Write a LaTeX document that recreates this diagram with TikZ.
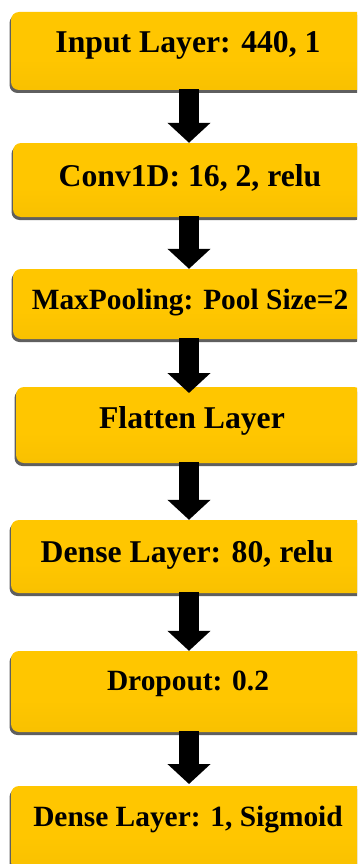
\documentclass[tikz,border=0pt]{standalone}
\usepackage{fontspec}
\setmainfont{Liberation Serif}
\usetikzlibrary{arrows.meta,shadows}

\definecolor{goldA}{RGB}{255,204,72}
\definecolor{goldB}{RGB}{255,198,0}
\definecolor{goldC}{RGB}{245,190,0}
\definecolor{goldD}{RGB}{230,180,0}
\definecolor{shadowgray}{RGB}{95,95,95}

% vertical gold gradient used to fill the layer boxes
\pgfdeclareverticalshading{goldfill}{100bp}{%
  color(0bp)=(goldD); color(15bp)=(goldC); color(45bp)=(goldB);
  color(85bp)=(goldB); color(100bp)=(goldA)}

\tikzset{
  layer/.style={rounded corners=8pt, shading=goldfill, draw=none,
    minimum width=356pt, inner sep=0pt,
    drop shadow={shadow xshift=-1.5pt, shadow yshift=-3pt,
                 fill=shadowgray, opacity=1}},
  biglbl/.style={anchor=base, inner sep=0pt, font=\bfseries\fontsize{31.7}{36}\selectfont},
  smalllbl/.style={anchor=base, inner sep=0pt, font=\bfseries\fontsize{29.4}{34}\selectfont},
  flow/.style={line width=20pt, draw=black,
    -{Triangle[width=42pt,length=20pt]}, shorten <=-1pt}
}

\begin{document}
\begin{tikzpicture}[x=1pt,y=1pt]
  \clip (0,0) rectangle (357,-864);
  \fill[white] (0,0) rectangle (357,-864);

  % free arrow ends where the tip stops short of the next box
  \coordinate (a3e) at (189,-393);
  \coordinate (a6e) at (189,-784);

  % layer boxes
  \node[layer, minimum height=78pt] (b1) at (189,-51) {};
  \node[layer, minimum height=74pt, minimum width=352pt] (b2) at (189,-180) {};
  \node[layer, minimum height=70pt, minimum width=352pt] (b3) at (189,-304) {};
  \node[layer, minimum height=76pt, minimum width=346pt] (b4) at (189,-425) {};
  \node[layer, minimum height=73pt] (b5) at (189,-556.5) {};
  \node[layer, minimum height=81pt] (b6) at (189,-691.5) {};
  \node[layer, minimum height=84pt] (b7) at (189,-828) {};

  % arrows between consecutive layers
  \draw[flow] (b1.south) -- (b2.north);
  \draw[flow] (b2.south) -- (b3.north);
  \draw[flow] (b3.south) -- (a3e);
  \draw[flow] (b4.south) -- (b5.north);
  \draw[flow] (b5.south) -- (b6.north);
  \draw[flow] (b6.south) -- (a6e);

  % layer labels
  \node[biglbl]   (t1) at (188,-53)  {Input Layer: 440, 1};
  \node[biglbl]   (t2) at (190,-186) {Conv1D: 16, 2, relu};
  \node[smalllbl] (t3) at (190,-309) {MaxPooling: Pool Size=2};
  \node[biglbl]   (t4) at (192,-428) {Flatten Layer};
  \node[biglbl]   (t5) at (187,-562) {Dense Layer: 80, relu};
  \node[smalllbl] (t6) at (188,-690) {Dropout: 0.2};
  \node[smalllbl] (t7) at (188,-826) {Dense Layer: 1, Sigmoid};
\end{tikzpicture}
\end{document}
